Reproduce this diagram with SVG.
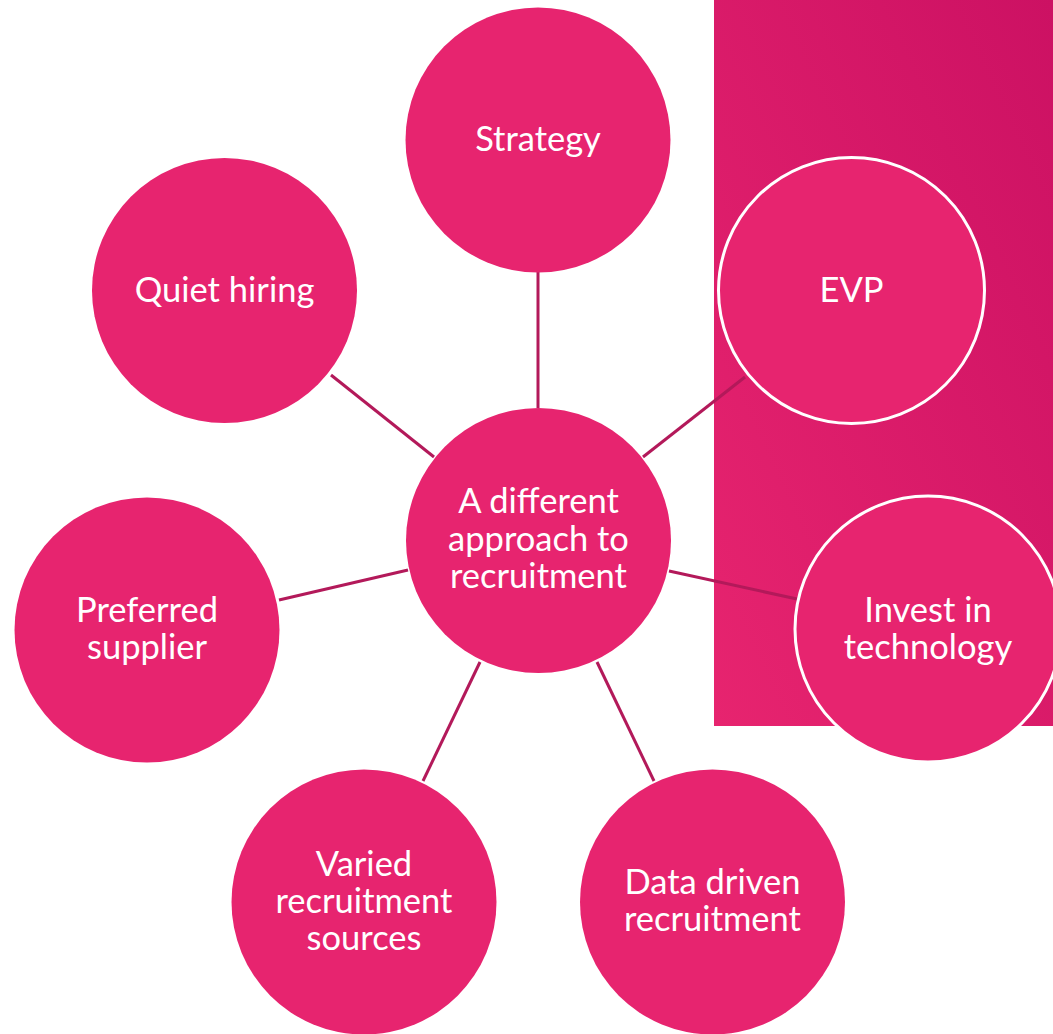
<svg xmlns="http://www.w3.org/2000/svg" width="1053" height="1034" viewBox="0 0 1053 1034">
<defs>
<linearGradient id="bg" x1="0" y1="1" x2="1" y2="0">
<stop offset="0" stop-color="#e7246f"/>
<stop offset="1" stop-color="#cc1163"/>
</linearGradient>
</defs>
<style>
.c{fill:#e7246f}
.w{fill:#e7246f;stroke:#ffffff;stroke-width:3}
.t{font-family:Lato,"Open Sans",sans-serif;font-size:34.5px;fill:#ffffff;text-anchor:middle}
.l{stroke:#b3195a;stroke-width:3;fill:none}
</style>
<rect x="714" y="0" width="339" height="726" fill="url(#bg)"/>
<g id="connectors">
<line class="l" x1="538" y1="272" x2="538" y2="408"/>
<line class="l" x1="331" y1="375" x2="434" y2="457"/>
<line class="l" x1="643" y1="457" x2="745" y2="377"/>
<line class="l" x1="669" y1="571" x2="797" y2="599"/>
<line class="l" x1="279" y1="600" x2="408" y2="570"/>
<line class="l" x1="480" y1="662" x2="423" y2="781"/>
<line class="l" x1="597" y1="662" x2="654" y2="781"/>
</g>
<g id="center"><circle class="c" cx="538.5" cy="540.5" r="132.5"/><text class="t" x="538.5"><tspan x="538.5" y="513">A different</tspan><tspan x="538.5" y="551">approach to</tspan><tspan x="538.5" y="588">recruitment</tspan></text></g>
<g id="strategy"><circle class="c" cx="538" cy="140" r="132.5"/><text class="t" x="538" y="151">Strategy</text></g>
<g id="quiet"><circle class="c" cx="224.5" cy="290.5" r="132.5"/><text class="t" x="224.5" y="302">Quiet hiring</text></g>
<g id="evp"><circle class="w" cx="851.5" cy="290.5" r="133"/><text class="t" x="851.5" y="302">EVP</text></g>
<g id="invest"><circle class="w" cx="928" cy="629" r="133"/><text class="t"><tspan x="928" y="622">Invest in</tspan><tspan x="928" y="659">technology</tspan></text></g>
<g id="preferred"><circle class="c" cx="147" cy="630" r="132.5"/><text class="t"><tspan x="147" y="622">Preferred</tspan><tspan x="147" y="659">supplier</tspan></text></g>
<g id="varied"><circle class="c" cx="364" cy="902" r="132.5"/><text class="t"><tspan x="364" y="876">Varied</tspan><tspan x="364" y="913">recruitment</tspan><tspan x="364" y="950">sources</tspan></text></g>
<g id="data"><circle class="c" cx="712.5" cy="902" r="132.5"/><text class="t"><tspan x="712.5" y="894">Data driven</tspan><tspan x="712.5" y="931">recruitment</tspan></text></g>
</svg>
